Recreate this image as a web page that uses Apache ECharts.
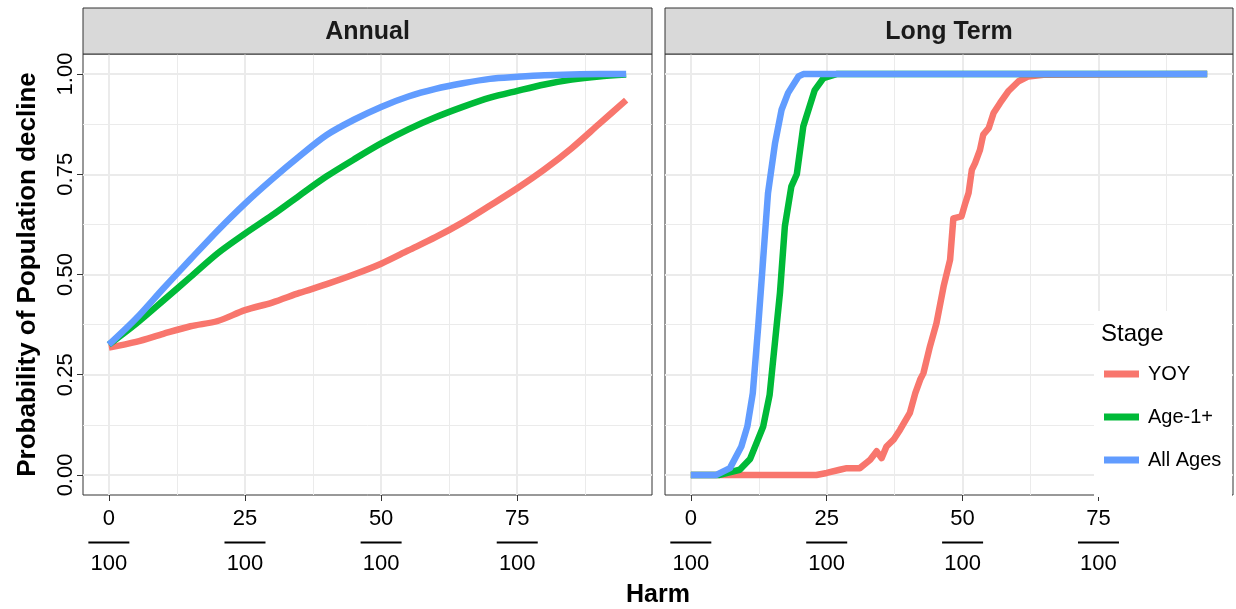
<!DOCTYPE html>
<html lang="en">
<head>
  <meta charset="UTF-8">
  <title>Probability of Population decline</title>
  <script src="https://cdn.jsdelivr.net/npm/echarts@6/dist/echarts.min.js"></script>
  <style>
    html, body { margin: 0; padding: 0; background: #fff; }
    #main { width: 1236px; height: 609px; }
  </style>
</head>
<body>
<div id="main"></div>
<script>
  var stages = ['YOY', 'Age-1+', 'All Ages'];
  var stageColors = ['#F8766D', '#00BA38', '#619CFF'];
  var panels = ['Annual', 'Long Term'];

  // Annual panel
  var annualHarm = [0, 5, 10, 15, 20, 25, 30, 35, 40, 45, 50, 55, 60, 65, 70, 75, 80, 85, 90, 95];
  var annualYoy  = [0.318, 0.332, 0.352, 0.371, 0.384, 0.411, 0.430, 0.454, 0.476, 0.500, 0.527, 0.560, 0.593, 0.630, 0.672, 0.715, 0.762, 0.815, 0.875, 0.935];
  var annualAge1 = [0.325, 0.377, 0.435, 0.494, 0.553, 0.602, 0.648, 0.697, 0.745, 0.787, 0.827, 0.862, 0.892, 0.918, 0.941, 0.958, 0.974, 0.986, 0.994, 0.999];
  var annualAll  = [0.325, 0.390, 0.465, 0.538, 0.610, 0.677, 0.738, 0.795, 0.848, 0.886, 0.918, 0.944, 0.963, 0.977, 0.988, 0.993, 0.997, 0.999, 1.000, 1.000];

  // Long Term panel
  var longYoyHarm = [0, 23.1, 25, 27.4, 28.7, 31.1, 33.0, 34.2, 35.1, 36.0, 37.3, 38.5, 40.3, 41.3, 42.2, 42.8, 44.0, 45.2, 46.5, 47.7, 48.3, 49.8, 50.5, 51.1, 51.7, 52.3, 53.2, 53.8, 54.8, 55.7, 56.9, 58.4, 60.3, 62.1, 64.9, 95];
  var longYoyProb = [0, 0, 0.005, 0.013, 0.017, 0.017, 0.038, 0.059, 0.042, 0.071, 0.088, 0.113, 0.155, 0.204, 0.238, 0.254, 0.321, 0.379, 0.470, 0.537, 0.640, 0.645, 0.678, 0.703, 0.761, 0.778, 0.811, 0.849, 0.865, 0.903, 0.928, 0.957, 0.982, 0.994, 0.998, 1];
  var longAge1Harm = [0, 5.3, 9.0, 10.9, 13.3, 14.5, 16.4, 17.3, 18.5, 19.5, 20.7, 22.8, 24.4, 26.8, 95];
  var longAge1Prob = [0, 0, 0.013, 0.040, 0.120, 0.200, 0.454, 0.620, 0.720, 0.750, 0.870, 0.960, 0.990, 1, 1];
  var longAllHarm = [0, 4.7, 7.2, 9.3, 10.4, 11.4, 12.4, 13.3, 14.2, 15.5, 16.7, 17.9, 19.8, 20.7, 95];
  var longAllProb = [0, 0, 0.017, 0.071, 0.121, 0.204, 0.371, 0.537, 0.703, 0.828, 0.911, 0.953, 0.994, 1, 1];

  var harmTicks = [0, 25, 50, 75];
  var harmMinor = [12.5, 37.5, 62.5, 87.5];
  var harmDenominator = 100;
  var probTicks = [0, 0.25, 0.5, 0.75, 1];
  var probMinor = [0.125, 0.375, 0.625, 0.875];

  var FONT = '"Liberation Sans", Arial, sans-serif';
  var panelLeft = [83, 665];
  var panelWidth = [569, 568];
  var panelTop = 54, panelHeight = 441;

  function zip(xs, ys) {
    return xs.map(function (x, i) { return [x, ys[i]]; });
  }

  var seriesData = [
    [zip(annualHarm, annualYoy), zip(annualHarm, annualAge1), zip(annualHarm, annualAll)],
    [zip(longYoyHarm, longYoyProb), zip(longAge1Harm, longAge1Prob), zip(longAllHarm, longAllProb)]
  ];

  var grids = [], xAxes = [], yAxes = [], series = [], graphics = [];

  panels.forEach(function (name, p) {
    grids.push({
      left: panelLeft[p], top: panelTop, width: panelWidth[p], height: panelHeight,
      show: true, borderColor: '#333', borderWidth: 1, backgroundColor: 'transparent',
      outerBoundsMode: 'none', containLabel: false
    });

    // major x axis with fraction labels
    xAxes.push({
      type: 'value', gridIndex: p, min: -4.75, max: 99.75, position: 'bottom',
      axisLine: {show: false, onZero: false},
      axisTick: {show: true, customValues: harmTicks, length: 6, lineStyle: {color: '#333', width: 1}},
      axisLabel: {
        show: true, customValues: harmTicks, margin: 8, color: '#000',
        formatter: function (v) { return '{n|' + v + '}\n{hr|}\n{d|' + harmDenominator + '}'; },
        rich: {
          n: {fontSize: 22, fontFamily: FONT, color: '#000', lineHeight: 32},
          hr: {width: 41, height: 2, lineHeight: 15, backgroundColor: '#000'},
          d: {fontSize: 22, fontFamily: FONT, color: '#000', lineHeight: 27}
        }
      },
      splitLine: {show: true, lineStyle: {color: '#EBEBEB', width: 2}}
    });
    // minor x grid
    xAxes.push({
      type: 'value', gridIndex: p, min: -4.75, max: 99.75, position: 'bottom',
      axisLine: {show: false, onZero: false},
      axisTick: {show: false, customValues: harmMinor},
      axisLabel: {show: false},
      splitLine: {show: true, lineStyle: {color: '#EBEBEB', width: 1}}
    });

    yAxes.push({
      type: 'value', gridIndex: p, min: -0.05, max: 1.05, position: 'left',
      axisLine: {show: false, onZero: false},
      axisTick: {show: p === 0, customValues: probTicks, length: 6, lineStyle: {color: '#333', width: 1}},
      axisLabel: {
        show: p === 0, customValues: probTicks, rotate: 90, margin: 6,
        fontSize: 22, fontFamily: FONT, color: '#000',
        formatter: function (v) { return v.toFixed(2); }
      },
      name: p === 0 ? 'Probability of Population decline' : '',
      nameLocation: 'middle', nameRotate: 90, nameGap: 42,
      nameTextStyle: {fontSize: 26, fontWeight: 'bold', fontFamily: FONT, color: '#000'},
      splitLine: {show: true, lineStyle: {color: '#EBEBEB', width: 2}}
    });
    yAxes.push({
      type: 'value', gridIndex: p, min: -0.05, max: 1.05, position: 'left',
      axisLine: {show: false, onZero: false},
      axisTick: {show: false, customValues: probMinor},
      axisLabel: {show: false},
      splitLine: {show: true, lineStyle: {color: '#EBEBEB', width: 1}}
    });

    stages.forEach(function (s, k) {
      series.push({
        name: s, type: 'line', xAxisIndex: 2 * p, yAxisIndex: 2 * p,
        data: seriesData[p][k], showSymbol: false, symbol: 'none',
        smooth: p === 0 ? 0.3 : false,
        color: stageColors[k],
        lineStyle: {width: 6.5, color: stageColors[k], join: 'round'},
        z: 2
      });
    });

    // facet strip
    graphics.push({
      type: 'rect', z: 5,
      shape: {x: panelLeft[p], y: 8, width: panelWidth[p], height: panelTop - 8},
      style: {fill: '#D9D9D9', stroke: '#333', lineWidth: 1}
    });
    graphics.push({
      type: 'text', z: 6, x: panelLeft[p] + panelWidth[p] / 2, y: 32,
      style: {text: name, font: 'bold 25px ' + FONT, fill: '#1a1a1a', align: 'center', verticalAlign: 'middle'}
    });
  });

  // legend background and title
  graphics.push({
    type: 'rect', z: 3,
    shape: {x: 1094, y: 311, width: 138, height: 186},
    style: {fill: '#fff'}
  });
  graphics.push({
    type: 'text', z: 6, x: 1101, y: 334,
    style: {text: 'Stage', font: '24px ' + FONT, fill: '#000', align: 'left', verticalAlign: 'middle'}
  });
  graphics.push({
    type: 'text', z: 6, x: 658, y: 595,
    style: {text: 'Harm', font: 'bold 25px ' + FONT, fill: '#000', align: 'center', verticalAlign: 'middle'}
  });

  var chart = echarts.init(document.getElementById('main'), null, {renderer: 'canvas'});
  chart.setOption({
    animation: false,
    backgroundColor: '#fff',
    grid: grids,
    xAxis: xAxes,
    yAxis: yAxes,
    legend: {
      data: stages, orient: 'vertical', left: 1104, top: 364, padding: 0, itemGap: 23,
      itemWidth: 35, itemHeight: 7, icon: 'rect', selectedMode: false, z: 6,
      textStyle: {fontSize: 20, fontFamily: FONT, color: '#000', lineHeight: 20, padding: [0, 0, 0, 4]}
    },
    graphic: graphics,
    series: series
  });
</script>
</body>
</html>
